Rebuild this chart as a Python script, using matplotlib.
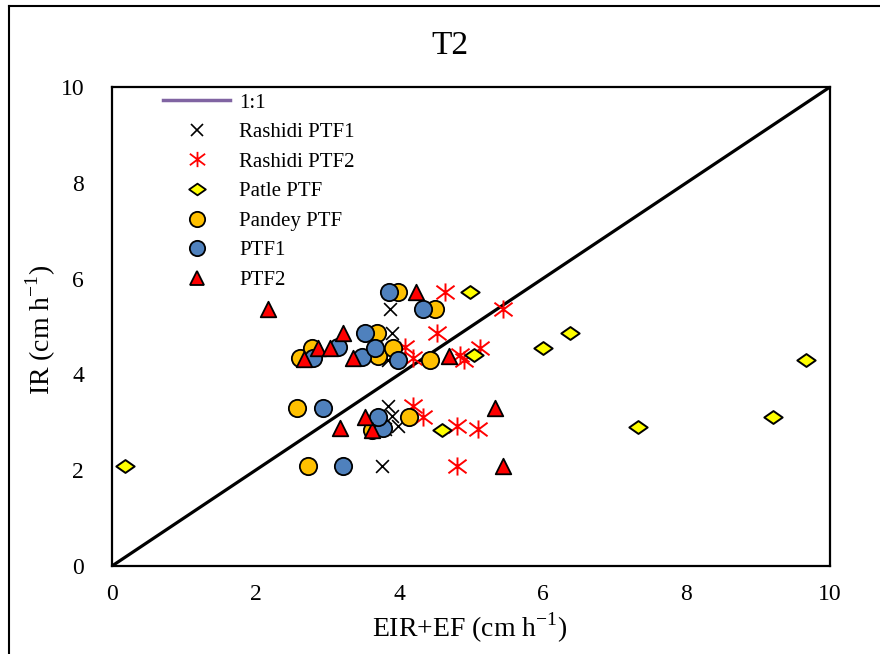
import numpy as np
import matplotlib.pyplot as plt
from matplotlib.lines import Line2D
from matplotlib.path import Path

plt.rcParams['font.family'] = ['Liberation Serif', 'DejaVu Serif']
plt.rcParams['mathtext.fontset'] = 'custom'
plt.rcParams['mathtext.rm'] = 'Liberation Serif'

# values (EIR+EF on x, IR on y)
rashidi1_x = [3.76, 3.84, 3.90, 3.98, 3.80, 3.84, 3.93, 3.90, 3.87, 3.93]
rashidi1_y = [2.09, 3.35, 3.14, 2.93, 2.87, 4.30, 4.56, 4.87, 5.36, 5.73]

rashidi2_x = [4.81, 4.80, 5.10, 4.33, 4.19, 4.90, 4.85, 4.19, 4.08, 5.13, 4.53, 5.45, 4.64]
rashidi2_y = [2.09, 2.93, 2.85, 3.12, 3.35, 4.31, 4.41, 4.35, 4.58, 4.56, 4.87, 5.36, 5.73]

patle_x = [0.18, 4.60, 7.33, 9.20, 9.66, 5.04, 6.00, 6.38, 4.99]
patle_y = [2.09, 2.83, 2.91, 3.12, 4.31, 4.41, 4.56, 4.87, 5.73]

pandey_x = [2.73, 3.62, 4.14, 2.57, 2.62, 4.43, 3.70, 2.78, 3.91, 3.69, 4.50, 3.98]
pandey_y = [2.09, 2.83, 3.10, 3.30, 4.35, 4.31, 4.39, 4.56, 4.56, 4.87, 5.36, 5.73]

ptf1_x = [3.22, 3.77, 3.71, 2.94, 2.80, 3.98, 3.48, 3.15, 3.66, 3.52, 4.33, 3.86]
ptf1_y = [2.09, 2.89, 3.10, 3.30, 4.35, 4.31, 4.37, 4.58, 4.56, 4.87, 5.36, 5.73]

ptf2_x = [5.45, 3.62, 3.18, 3.53, 5.33, 2.67, 3.36, 4.69, 2.87, 3.04, 3.22, 2.17, 4.23]
ptf2_y = [2.09, 2.83, 2.89, 3.10, 3.30, 4.33, 4.35, 4.39, 4.56, 4.56, 4.87, 5.36, 5.73]

ticks = [0, 2, 4, 6, 8, 10]
labels = ['1:1', 'Rashidi PTF1', 'Rashidi PTF2', 'Patle PTF', 'Pandey PTF', 'PTF1', 'PTF2']

# excel-like asterisk (x plus vertical bar) and a flat diamond
star = Path([(0, -1), (0, 1), (-1, -0.75), (1, 0.75), (-1, 0.75), (1, -0.75)],
            [Path.MOVETO, Path.LINETO, Path.MOVETO, Path.LINETO, Path.MOVETO, Path.LINETO])
diamond = Path([(-1, 0), (0, 0.7), (1, 0), (0, -0.7), (-1, 0)],
               [Path.MOVETO, Path.LINETO, Path.LINETO, Path.LINETO, Path.CLOSEPOLY])

fig = plt.figure(figsize=(8.8, 6.54), dpi=100)
ax = fig.add_axes([0.1273, 0.1346, 0.8159, 0.7324])

ax.plot([0, 10], [0, 10], color='black', lw=2.3, zorder=1)

ax.scatter(rashidi1_x, rashidi1_y, marker='x', s=85, color='black', lw=1.2, zorder=2)
ax.scatter(rashidi2_x, rashidi2_y, marker=star, s=170, color='#FF0000', lw=1.4, zorder=3)
ax.scatter(patle_x, patle_y, marker=diamond, s=175, color='#FFFF00', edgecolors='black', lw=1.4, zorder=4)
ax.scatter(pandey_x, pandey_y, marker='o', s=155, color='#FFC000', edgecolors='black', lw=1.3, zorder=5)
ax.scatter(ptf1_x, ptf1_y, marker='o', s=155, color='#4F81BD', edgecolors='black', lw=1.3, zorder=6)
ax.scatter(ptf2_x, ptf2_y, marker='^', s=125, color='#FF0000', edgecolors='black', lw=1.3, zorder=7)

ax.set_xlim(0, 10)
ax.set_ylim(0, 10)
ax.set_xticks(ticks)
ax.set_yticks(ticks)
ax.tick_params(length=0, labelsize=17)
ax.tick_params(axis='x', pad=13)
ax.tick_params(axis='y', pad=20)
for s in ax.spines.values():
    s.set_linewidth(1.6)

fig.text(0.511, 0.93, 'T2', ha='center', va='center', fontsize=24)
fig.text(0.534, 0.04, r'EIR+EF (cm h$^{\mathrm{-1}}$)', ha='center', va='center', fontsize=20)
fig.text(0.046, 0.495, r'IR (cm h$^{\mathrm{-1}}$)', ha='center', va='center', fontsize=20, rotation=90)

handles = [
    Line2D([], [], color='#8064A2', lw=2.5),
    Line2D([], [], ls='', marker='x', ms=8, color='black', mew=1.2),
    Line2D([], [], ls='', marker=star, ms=11, color='#FF0000', mew=1.3),
    Line2D([], [], ls='', marker=diamond, ms=12, mfc='#FFFF00', mec='black', mew=1.3),
    Line2D([], [], ls='', marker='o', ms=11, mfc='#FFC000', mec='black', mew=1.3),
    Line2D([], [], ls='', marker='o', ms=11, mfc='#4F81BD', mec='black', mew=1.3),
    Line2D([], [], ls='', marker='^', ms=10, mfc='#FF0000', mec='black', mew=1.3),
]
ax.legend(handles, labels, loc='upper left', bbox_to_anchor=(0.06, 1.005), frameon=False,
          fontsize=15, handlelength=3.2, handletextpad=0.45, labelspacing=0.48,
          borderaxespad=0)

# outer frame (left and top edges only visible)
fig.add_artist(Line2D([9 / 880, 9 / 880], [0, 1 - 6 / 654], transform=fig.transFigure, color='black', lw=1.5))
fig.add_artist(Line2D([9 / 880, 1], [1 - 6 / 654, 1 - 6 / 654], transform=fig.transFigure, color='black', lw=1.5))

fig.savefig('out.png', dpi=100)
